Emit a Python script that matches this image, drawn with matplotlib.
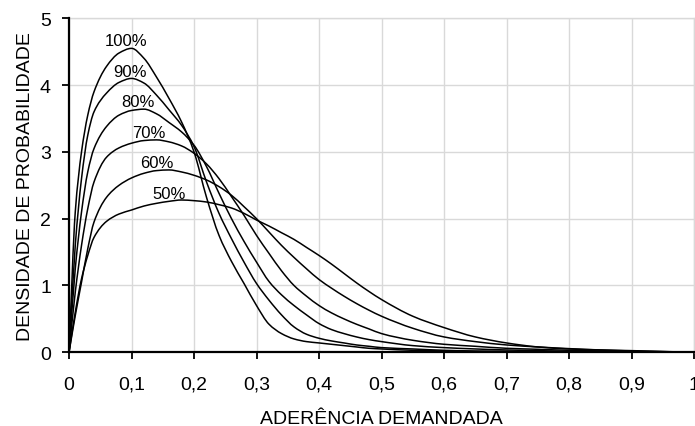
import matplotlib
matplotlib.use("Agg")
import matplotlib.pyplot as plt
from matplotlib.path import Path
from matplotlib.patches import PathPatch
from matplotlib.ticker import MultipleLocator, FuncFormatter

plt.rcParams['font.family'] = ['Liberation Sans', 'DejaVu Sans']

# demanded adhesion (x) and probability density for each percentile curve
adherencia = [0.00, 0.01, 0.02, 0.03, 0.04, 0.06, 0.08, 0.10, 0.12, 0.14,
              0.16, 0.18, 0.20, 0.22, 0.24, 0.26, 0.28, 0.30, 0.32, 0.34,
              0.36, 0.38, 0.40, 0.42, 0.44, 0.46, 0.48, 0.50, 0.55, 0.60,
              0.65, 0.70, 0.75, 0.80, 0.85, 0.90, 0.95, 1.00]

dens_100 = [0, 2.10, 3.00, 3.55, 3.90, 4.28, 4.48, 4.55, 4.40, 4.12,
            3.80, 3.45, 3.00, 2.32, 1.75, 1.36, 1.03, 0.70, 0.42, 0.28,
            0.20, 0.16, 0.14, 0.12, 0.10, 0.08, 0.06, 0.05, 0.03, 0.02,
            0.01, 0.01, 0.005, 0, 0, 0, 0, 0]
dens_90 = [0, 1.60, 2.60, 3.25, 3.60, 3.88, 4.04, 4.10, 4.03, 3.85,
           3.63, 3.40, 3.08, 2.55, 2.08, 1.70, 1.35, 1.03, 0.78, 0.56,
           0.38, 0.27, 0.21, 0.17, 0.14, 0.11, 0.09, 0.07, 0.05, 0.03,
           0.02, 0.015, 0.01, 0.005, 0, 0, 0, 0]
dens_80 = [0, 1.25, 2.10, 2.70, 3.05, 3.38, 3.55, 3.62, 3.64, 3.57,
           3.44, 3.30, 3.10, 2.78, 2.38, 2.00, 1.66, 1.35, 1.06, 0.86,
           0.70, 0.56, 0.43, 0.34, 0.28, 0.23, 0.19, 0.16, 0.10, 0.07,
           0.05, 0.035, 0.025, 0.015, 0.01, 0.005, 0, 0]
dens_70 = [0, 0.90, 1.60, 2.15, 2.55, 2.92, 3.06, 3.13, 3.17, 3.18,
           3.15, 3.09, 2.98, 2.82, 2.60, 2.33, 2.05, 1.75, 1.48, 1.22,
           1.00, 0.84, 0.70, 0.59, 0.50, 0.42, 0.35, 0.28, 0.18, 0.12,
           0.09, 0.06, 0.045, 0.03, 0.02, 0.01, 0.005, 0]
dens_60 = [0, 0.55, 1.05, 1.55, 1.95, 2.32, 2.50, 2.61, 2.68, 2.72,
           2.73, 2.70, 2.65, 2.58, 2.48, 2.35, 2.18, 2.00, 1.80, 1.60,
           1.42, 1.25, 1.09, 0.96, 0.84, 0.73, 0.63, 0.54, 0.36, 0.23,
           0.16, 0.11, 0.08, 0.055, 0.035, 0.02, 0.01, 0]
dens_50 = [0, 0.60, 1.10, 1.45, 1.72, 1.96, 2.07, 2.13, 2.19, 2.23,
           2.26, 2.28, 2.27, 2.25, 2.21, 2.16, 2.08, 1.98, 1.89, 1.79,
           1.69, 1.57, 1.45, 1.32, 1.18, 1.04, 0.91, 0.79, 0.54, 0.37,
           0.23, 0.14, 0.08, 0.05, 0.035, 0.025, 0.012, 0]

series = [dens_100, dens_90, dens_80, dens_70, dens_60, dens_50]
rotulos = ["100%", "90%", "80%", "70%", "60%", "50%"]
rotulo_x = [0.092, 0.097, 0.110, 0.127, 0.140, 0.160]
rotulo_y = [4.67, 4.21, 3.75, 3.29, 2.84, 2.38]


def inclinacoes(xs, ys):
    """Shape-preserving (Fritsch-Carlson) slopes at each point."""
    n = len(xs)
    h = [xs[i + 1] - xs[i] for i in range(n - 1)]
    d = [(ys[i + 1] - ys[i]) / h[i] for i in range(n - 1)]
    m = [0.0] * n
    m[0] = d[0]
    m[-1] = d[-1]
    for i in range(1, n - 1):
        if d[i - 1] * d[i] <= 0:
            m[i] = 0.0
        else:
            w1 = 2 * h[i] + h[i - 1]
            w2 = h[i] + 2 * h[i - 1]
            m[i] = (w1 + w2) / (w1 / d[i - 1] + w2 / d[i])
    return m


def curva_suave(xs, ys):
    """Smoothed line through the points as cubic Bezier segments."""
    m = inclinacoes(xs, ys)
    verts = [(xs[0], ys[0])]
    codes = [Path.MOVETO]
    for i in range(len(xs) - 1):
        h = xs[i + 1] - xs[i]
        c1 = (xs[i] + h / 3, ys[i] + m[i] * h / 3)
        c2 = (xs[i + 1] - h / 3, ys[i + 1] - m[i + 1] * h / 3)
        verts += [c1, c2, (xs[i + 1], ys[i + 1])]
        codes += [Path.CURVE4] * 3
    return Path(verts, codes)


fig = plt.figure(figsize=(6.95, 4.27), dpi=100)
ax = fig.add_axes([0.0993, 0.1726, 0.8993, 0.7822])

for dens in series:
    patch = PathPatch(curva_suave(adherencia, dens), facecolor='none',
                      edgecolor='black', lw=1.1, zorder=3,
                      transform=ax.transData)
    ax.add_patch(patch)

for txt, lx, ly in zip(rotulos, rotulo_x, rotulo_y):
    ax.text(lx, ly, txt, fontsize=12, ha='center', va='center', zorder=4)

ax.set_xlim(0, 1)
ax.set_ylim(0, 5)
ax.xaxis.set_major_locator(MultipleLocator(0.1))
ax.yaxis.set_major_locator(MultipleLocator(1))


def virgula(v, pos):
    s = f"{v:.1f}".rstrip('0').rstrip('.')
    return s.replace('.', ',')


ax.xaxis.set_major_formatter(FuncFormatter(virgula))
ax.yaxis.set_major_formatter(FuncFormatter(lambda v, p: f"{int(round(v))}"))

ax.grid(True, color='#d9d9d9', lw=1.0, zorder=0)
ax.set_axisbelow(True)
for side in ('top', 'right'):
    ax.spines[side].set_color('#d9d9d9')
    ax.spines[side].set_linewidth(1.0)
for side in ('left', 'bottom'):
    ax.spines[side].set_color('black')
    ax.spines[side].set_linewidth(1.6)
    ax.spines[side].set_zorder(5)

ax.tick_params(axis='both', direction='out', length=5, width=1.3,
               labelsize=14, color='black')
ax.tick_params(axis='x', pad=12)
ax.tick_params(axis='y', pad=8)

ax.set_xlabel("ADERÊNCIA DEMANDADA", fontsize=14, labelpad=12)
ax.set_ylabel("DENSIDADE DE PROBABILIDADE", fontsize=14, labelpad=4)

fig.savefig("out.png", dpi=100)
